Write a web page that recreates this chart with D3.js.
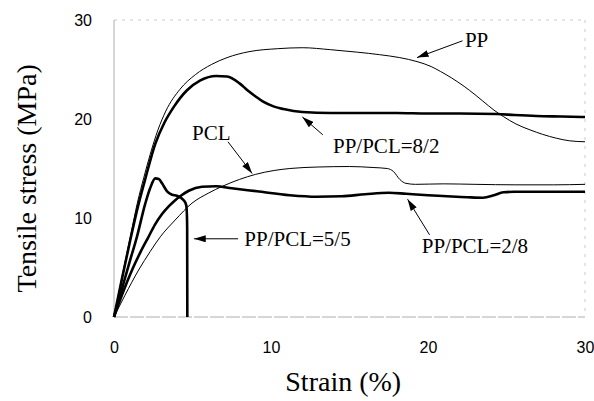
<!DOCTYPE html>
<meta charset="utf-8">
<style>
    body { margin: 0; background: #fff; }
    .tick text { font: 16px "Liberation Sans", Arial, sans-serif; fill: #000; }
    .title { font-family: "Liberation Serif", "DejaVu Serif", "Noto Serif", Times, serif; font-size: 28px; fill: #000; }
    .note { font-family: "Liberation Serif", "DejaVu Serif", "Noto Serif", Times, serif; font-size: 21px; fill: #000; }
    .curve { fill: none; stroke: #000; }
</style>
<body>
<div id="plotarea"></div>
<script src="https://cdn.jsdelivr.net/npm/d3@7"></script>
<script>

    // strain (%) / stress (MPa)
    var ppStrain = [0, 0.5, 1.04, 1.5, 1.9, 2.3, 2.8, 3.3, 4.2, 5.2, 6.2, 7.2, 8.6, 10.4, 12.0, 13.8, 15.5, 16.9, 18.2, 19.3, 20.2, 20.8, 21.5, 22.3, 23.0, 23.5, 24.2, 24.8, 25.6, 26.5, 27.3, 28.2, 29.0, 30];
    var ppStress = [0, 4.0, 8.1, 11.6, 14.1, 16.4, 18.9, 20.8, 23.0, 24.5, 25.5, 26.2, 26.8, 27.1, 27.2, 27.0, 26.75, 26.5, 26.2, 25.8, 25.3, 24.8, 24.15, 23.3, 22.45, 21.8, 20.9, 20.25, 19.5, 18.9, 18.45, 18.05, 17.8, 17.7];

    var pp82Strain = [0, 0.5, 1.04, 1.5, 1.95, 2.63, 3.2, 3.8, 4.65, 5.5, 6.5, 7.2, 8.0, 8.5, 9.0, 9.5, 10.2, 10.8, 12.0, 13.8, 16, 18, 20, 22, 24.4, 25.5, 26.9, 28.5, 30];
    var pp82Stress = [0, 3.8, 7.8, 11.0, 13.7, 17.5, 19.6, 21.2, 22.9, 23.9, 24.35, 24.3, 23.6, 22.9, 22.3, 21.75, 21.25, 21.0, 20.7, 20.6, 20.6, 20.6, 20.55, 20.55, 20.5, 20.4, 20.3, 20.25, 20.2];

    var pp55Strain = [0, 0.5, 1.0, 1.46, 2.0, 2.3, 2.63, 2.85, 3.06, 3.38, 3.7, 4.0, 4.44, 4.6, 4.64, 4.66, 4.67];
    var pp55Stress = [0, 2.8, 5.6, 8.1, 11.5, 13.0, 14.0, 13.95, 13.5, 12.7, 12.35, 12.25, 11.8, 11.3, 10.5, 9.0, 0];

    var pp28Strain = [0, 0.5, 1.15, 1.7, 2.2, 2.6, 3.06, 3.5, 3.9, 4.3, 4.76, 5.6, 6.5, 7.5, 9.1, 11.2, 12.9, 14.5, 16.0, 17.5, 18.6, 20.0, 21.2, 22.5, 23.5, 24.2, 24.8, 25.5, 27, 30];
    var pp28Stress = [0, 2.2, 4.75, 6.6, 8.1, 9.3, 10.4, 11.2, 11.8, 12.3, 12.75, 13.15, 13.2, 13.0, 12.7, 12.3, 12.15, 12.2, 12.4, 12.55, 12.45, 12.3, 12.2, 12.1, 12.05, 12.3, 12.6, 12.65, 12.65, 12.65];

    var pclStrain = [0, 0.7, 1.57, 2.3, 2.95, 3.9, 4.97, 6.0, 6.9, 8.0, 9.0, 10.2, 11.2, 13, 15, 16.5, 17.4, 17.8, 18.2, 18.6, 19.2, 21, 23, 25.6, 28, 30];
    var pclStress = [0, 2.2, 4.75, 6.6, 8.1, 9.8, 11.5, 12.5, 13.2, 13.9, 14.4, 14.8, 15.0, 15.15, 15.2, 15.1, 15.0, 14.7, 13.9, 13.5, 13.4, 13.45, 13.4, 13.35, 13.35, 13.4];

    var xTicks = [0, 10, 20, 30];
    var yTicks = [0, 10, 20, 30];

    // label text, label position, arrow tail, arrow head (data units)
    var noteText = ["PP", "PP/PCL=8/2", "PCL", "PP/PCL=5/5", "PP/PCL=2/8"];
    var noteAt = [[22.35, 27.3], [13.95, 16.6], [4.97, 17.9], [8.3, 7.2], [19.6, 6.45]];
    var arrowFrom = [[22.2, 27.9], [13.3, 18.4], [7.26, 17.7], [7.9, 7.9], [20.1, 8.3]];
    var arrowTo = [[19.3, 26.2], [12.0, 20.2], [8.8, 14.5], [5.1, 7.9], [18.7, 11.9]];

    var margin = {top: 20, right: 9, bottom: 84, left: 114},
            width = 594 - margin.left - margin.right,
            height = 401 - margin.top - margin.bottom;

    var x = d3.scaleLinear().domain([0, 30]).range([0, width]);
    var y = d3.scaleLinear().domain([0, 30]).range([height, 0]);

    var svg = d3.select("#plotarea").append("svg")
            .attr("width", 594)
            .attr("height", 401)
            .append("g")
            .attr("transform", "translate(" + margin.left + "," + margin.top + ")");

    var defs = svg.append("defs");
    defs.append("marker")
            .attr("id", "head")
            .attr("viewBox", "0 0 10 6")
            .attr("refX", 10).attr("refY", 3)
            .attr("markerWidth", 12).attr("markerHeight", 7)
            .attr("markerUnits", "userSpaceOnUse")
            .attr("orient", "auto")
            .append("path").attr("d", "M0,0L10,3L0,6Z").attr("fill", "#000");

    // frame
    svg.append("line").attr("x1", 0).attr("x2", 0).attr("y1", 0).attr("y2", height)
            .attr("stroke", "#999").attr("stroke-width", 0.8);
    svg.append("line").attr("x1", 0).attr("x2", width).attr("y1", height).attr("y2", height)
            .attr("stroke", "#999").attr("stroke-width", 0.8).attr("stroke-dasharray", "14,2");
    svg.append("line").attr("x1", 0).attr("x2", width).attr("y1", 0).attr("y2", 0)
            .attr("stroke", "#bbb").attr("stroke-width", 0.8).attr("stroke-dasharray", "3,5");
    svg.append("line").attr("x1", width).attr("x2", width).attr("y1", 0).attr("y2", height)
            .attr("stroke", "#bbb").attr("stroke-width", 0.8).attr("stroke-dasharray", "3,6");

    var xAxis = svg.append("g")
            .attr("transform", "translate(0," + height + ")")
            .call(d3.axisBottom(x).tickValues(xTicks).tickSize(0).tickPadding(25));
    xAxis.select(".domain").remove();

    var yAxis = svg.append("g")
            .call(d3.axisLeft(y).tickValues(yTicks).tickSize(0).tickPadding(22));
    yAxis.select(".domain").remove();

    svg.append("text").attr("class", "title")
            .attr("text-anchor", "middle")
            .attr("x", x(14.6)).attr("y", height + 74)
            .text("Strain (%)");

    svg.append("text").attr("class", "title")
            .attr("text-anchor", "middle")
            .attr("transform", "translate(" + (-78) + "," + y(14) + ") rotate(-90)")
            .text("Tensile stress (MPa)");

    var line = d3.line()
            .x(function(d) { return x(d[0]); })
            .y(function(d) { return y(d[1]); })
            .curve(d3.curveMonotoneX);

    function pairs(a, b) { return a.map(function(v, i) { return [v, b[i]]; }); }

    var curves = [
        {name: "PP", values: pairs(ppStrain, ppStress), w: 1},
        {name: "PCL", values: pairs(pclStrain, pclStress), w: 1},
        {name: "8/2", values: pairs(pp82Strain, pp82Stress), w: 2.6},
        {name: "5/5", values: pairs(pp55Strain, pp55Stress), w: 2.6},
        {name: "2/8", values: pairs(pp28Strain, pp28Stress), w: 2.6}
    ];

    svg.selectAll(".curve")
            .data(curves)
            .enter().append("path")
            .attr("class", "curve")
            .attr("stroke-width", function(d) { return d.w; })
            .attr("d", function(d) { return line(d.values); });

    var notes = noteText.map(function(t, i) {
        return {text: t, at: noteAt[i], from: arrowFrom[i], to: arrowTo[i]};
    });

    svg.selectAll(".arrow")
            .data(notes)
            .enter().append("line")
            .attr("class", "arrow")
            .attr("x1", function(d) { return x(d.from[0]); })
            .attr("y1", function(d) { return y(d.from[1]); })
            .attr("x2", function(d) { return x(d.to[0]); })
            .attr("y2", function(d) { return y(d.to[1]); })
            .attr("stroke", "#000").attr("stroke-width", 1)
            .attr("marker-end", "url(#head)");

    svg.selectAll(".note")
            .data(notes)
            .enter().append("text")
            .attr("class", "note")
            .attr("x", function(d) { return x(d.at[0]); })
            .attr("y", function(d) { return y(d.at[1]); })
            .text(function(d) { return d.text; });

</script>
</body>
